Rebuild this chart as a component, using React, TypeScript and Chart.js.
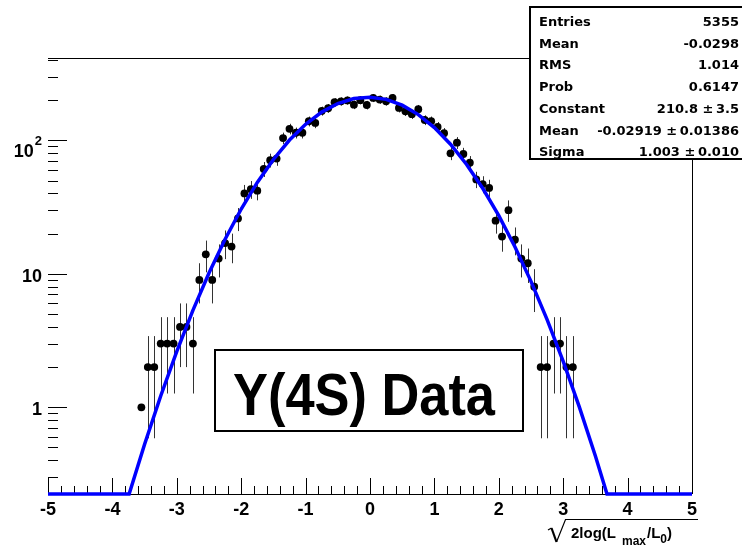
import React, { useEffect, useRef } from "react";
import { Chart, registerables } from "chart.js";

Chart.register(...registerables);

// ---- data ----
const binCenters = [
  -3.55, -3.45, -3.35, -3.25, -3.15, -3.05, -2.95, -2.85, -2.75, -2.65,
  -2.55, -2.45, -2.35, -2.25, -2.15, -2.05, -1.95, -1.85, -1.75, -1.65,
  -1.55, -1.45, -1.35, -1.25, -1.15, -1.05, -0.95, -0.85, -0.75, -0.65,
  -0.55, -0.45, -0.35, -0.25, -0.15, -0.05, 0.05, 0.15, 0.25, 0.35,
  0.45, 0.55, 0.65, 0.75, 0.85, 0.95, 1.05, 1.15, 1.25, 1.35,
  1.45, 1.55, 1.65, 1.75, 1.85, 1.95, 2.05, 2.15, 2.25, 2.35,
  2.45, 2.55, 2.65, 2.75, 2.85, 2.95, 3.05, 3.15,
];
const binCounts = [
  1, 2, 2, 3, 3, 3, 4, 4, 3, 9,
  14, 9, 13, 17, 16, 26, 40, 43, 42, 61,
  71, 73, 104, 122, 114, 114, 139, 135, 166, 174,
  193, 196, 199, 185, 200, 184, 208, 202, 196, 208,
  175, 165, 157, 171, 142, 139, 126, 113, 80, 96,
  79, 68, 51, 47, 44, 25, 19, 30, 18, 13,
  12, 8, 2, 2, 3, 3, 2, 2,
];
const binWidth = 0.1;

const fitX = [
  -5, -3.74, -3.5, -3.25, -3, -2.75, -2.5, -2.25, -2, -1.75, -1.5, -1.25, -1,
  -0.75, -0.5, -0.25, 0, 0.25, 0.5, 0.75, 1, 1.25, 1.5, 1.75, 2, 2.25, 2.5,
  2.75, 3, 3.25, 3.5, 3.68, 5,
];
const fitY = [
  0.224, 0.224, 0.529, 1.215, 2.623, 5.317, 10.14, 18.16, 30.58, 48.37, 71.91,
  100.5, 131.9, 162.8, 188.8, 205.7, 210.7, 202.8, 183.4, 155.9, 124.5, 93.49,
  65.95, 43.73, 27.25, 15.95, 8.776, 4.538, 2.206, 1.007, 0.432, 0.224, 0.224,
];

const xTickValues = [-5, -4, -3, -2, -1, 0, 1, 2, 3, 4, 5];
const xTickLabels = ["-5", "-4", "-3", "-2", "-1", "0", "1", "2", "3", "4", "5"];
const yTickValues = [1, 10, 100];
const yTickLabels = ["1", "10", "10"];
const yTickSup = ["", "", "2"];

const statsLabels = ["Entries", "Mean", "RMS", "Prob", "Constant", "Mean", "Sigma"];
const statsValues = [
  "5355",
  "-0.0298",
  "1.014",
  "0.6147",
  "210.8 \u00b1\u20093.5",
  "-0.02919 \u00b1\u20090.01386",
  "1.003 \u00b1\u20090.010",
];

const boxText = "Y(4S) Data";

const X_MIN = -5;
const X_MAX = 5;
const Y_MIN = 0.224;
const Y_MAX = 414;

const TICK_FONT = 'bold 18px "Liberation Sans", Arial, sans-serif';

const rootPlugin = {
  id: "rootStyle",
  beforeDatasetsDraw(chart: any) {
    const { ctx, chartArea: a, scales } = chart;
    const xs = scales.x;
    const ys = scales.y;
    ctx.save();
    // frame
    ctx.strokeStyle = "#000";
    ctx.lineWidth = 1;
    ctx.beginPath();
    ctx.moveTo(a.left, Math.round(a.bottom) + 0.5);
    ctx.lineTo(a.right, Math.round(a.bottom) + 0.5);
    ctx.moveTo(Math.round(a.right) + 0.5, a.bottom);
    ctx.lineTo(Math.round(a.right) + 0.5, a.top);
    ctx.moveTo(a.left, Math.round(a.top) + 0.5);
    ctx.lineTo(a.right, Math.round(a.top) + 0.5);
    ctx.stroke();

    // x ticks (major at integers, minor every 0.2)
    ctx.beginPath();
    for (let i = -25; i <= 25; i++) {
      const v = i / 5;
      const px = Math.round(xs.getPixelForValue(v)) + 0.5;
      const len = i % 5 === 0 ? 16 : 8;
      ctx.moveTo(px, a.bottom);
      ctx.lineTo(px, a.bottom - len);
    }
    ctx.stroke();

    // y ticks (log)
    ctx.beginPath();
    for (let d = -1; d <= 2; d++) {
      for (let m = 1; m <= 9; m++) {
        const v = m * Math.pow(10, d);
        if (v < Y_MIN || v > Y_MAX) continue;
        const py = Math.round(ys.getPixelForValue(v)) + 0.5;
        const len = m === 1 ? 19 : 10;
        ctx.moveTo(a.left, py);
        ctx.lineTo(a.left + len, py);
      }
    }
    ctx.stroke();

    // error bars
    ctx.beginPath();
    ctx.rect(a.left, a.top, a.width, a.height);
    ctx.clip();
    binCenters.forEach((c, i) => {
      const n = binCounts[i];
      const px = Math.round(xs.getPixelForValue(c)) + 0.5;
      const py = ys.getPixelForValue(n);
      if (n > 1) {
        const e = Math.sqrt(n);
        ctx.strokeStyle = "#333";
        ctx.lineWidth = 1;
        ctx.beginPath();
        ctx.moveTo(px, ys.getPixelForValue(n + e));
        ctx.lineTo(px, ys.getPixelForValue(n - e));
        ctx.stroke();
      }
      ctx.lineWidth = 3;
      ctx.strokeStyle = "#000";
      ctx.beginPath();
      ctx.moveTo(xs.getPixelForValue(c - binWidth / 2), py);
      ctx.lineTo(xs.getPixelForValue(c + binWidth / 2), py);
      ctx.stroke();
    });
    ctx.restore();
  },
  afterDraw(chart: any) {
    const { ctx, chartArea: a, scales } = chart;
    const xs = scales.x;
    const ys = scales.y;
    ctx.save();
    ctx.fillStyle = "#000";

    // x tick labels
    ctx.font = TICK_FONT;
    ctx.textAlign = "center";
    ctx.textBaseline = "alphabetic";
    xTickValues.forEach((v, i) => {
      ctx.fillText(xTickLabels[i], xs.getPixelForValue(v), a.bottom + 21);
    });

    // y tick labels
    ctx.textAlign = "right";
    yTickValues.forEach((v, i) => {
      const py = ys.getPixelForValue(v);
      if (yTickSup[i]) {
        ctx.font = 'bold 13px "Liberation Sans", Arial, sans-serif';
        ctx.fillText(yTickSup[i], 42, py + 5);
        const w = ctx.measureText(yTickSup[i]).width;
        ctx.font = TICK_FONT;
        ctx.fillText(yTickLabels[i], 42 - w - 1, py + 17);
      } else {
        ctx.font = TICK_FONT;
        ctx.fillText(yTickLabels[i], 42, py + 8);
      }
    });

    // axis title: sqrt(2log(L max / L0))
    ctx.strokeStyle = "#000";
    ctx.lineWidth = 1.2;
    ctx.beginPath();
    ctx.moveTo(548, 530);
    ctx.lineTo(551.5, 528);
    ctx.stroke();
    ctx.lineWidth = 2.2;
    ctx.beginPath();
    ctx.moveTo(551.5, 528);
    ctx.lineTo(556.5, 542);
    ctx.stroke();
    ctx.lineWidth = 1.2;
    ctx.beginPath();
    ctx.moveTo(556.5, 542);
    ctx.lineTo(565.5, 519.5);
    ctx.lineTo(698, 519.5);
    ctx.stroke();

    ctx.textAlign = "left";
    let tx = 571;
    const big = 'bold 15px "Liberation Sans", Arial, sans-serif';
    const small = 'bold 12px "Liberation Sans", Arial, sans-serif';
    ctx.font = big;
    ctx.fillText("2log(L", tx, 538);
    tx += ctx.measureText("2log(L").width + 6;
    ctx.font = small;
    ctx.fillText("max", tx, 545);
    tx += ctx.measureText("max").width + 1;
    ctx.font = big;
    ctx.fillText("/L", tx, 538);
    tx += ctx.measureText("/L").width;
    ctx.font = small;
    ctx.fillText("0", tx, 543);
    tx += ctx.measureText("0").width;
    ctx.font = big;
    ctx.fillText(")", tx, 538);

    // label box
    ctx.fillStyle = "#fff";
    ctx.fillRect(215, 350, 308, 81);
    ctx.strokeStyle = "#000";
    ctx.lineWidth = 2;
    ctx.strokeRect(215, 350, 308, 81);
    ctx.fillStyle = "#000";
    ctx.font = 'bold 59px "Liberation Sans", Arial, sans-serif';
    const tw = ctx.measureText(boxText).width;
    ctx.save();
    ctx.translate(233, 415);
    ctx.scale(262 / tw, 1);
    ctx.fillText(boxText, 0, 0);
    ctx.restore();

    // stats box
    ctx.fillStyle = "#fff";
    ctx.fillRect(530, 7, 220, 152);
    ctx.strokeStyle = "#000";
    ctx.lineWidth = 2;
    ctx.strokeRect(530, 7, 220, 152);
    ctx.fillStyle = "#000";
    ctx.font = 'bold 13px "DejaVu Sans", sans-serif';
    statsLabels.forEach((lab, i) => {
      const by = 26 + i * 21.7;
      ctx.textAlign = "left";
      ctx.fillText(lab, 539, by);
      ctx.textAlign = "right";
      ctx.fillText(statsValues[i], 739, by);
    });
    ctx.restore();
  },
};

export default function App() {
  const ref = useRef<HTMLCanvasElement>(null);
  useEffect(() => {
    const canvas = ref.current;
    if (!canvas) return;
    const chart = new Chart(canvas, {
      type: "scatter",
      data: {
        datasets: [
          {
            label: "fit",
            data: fitX.map((x, i) => ({ x, y: fitY[i] })),
            showLine: true,
            borderColor: "#0000ff",
            borderWidth: 3.5,
            pointRadius: 0,
            tension: 0,
            clip: 4,
            order: 0,
          } as any,
          {
            label: "data",
            data: binCenters.map((x, i) => ({ x, y: binCounts[i] })),
            showLine: false,
            pointRadius: 3.9,
            pointBackgroundColor: "#000",
            pointBorderColor: "#000",
            pointBorderWidth: 0,
            order: 1,
          } as any,
        ],
      },
      options: {
        animation: false,
        responsive: false,
        events: [],
        layout: { padding: { left: 48, right: 50, top: 58, bottom: 54 } },
        plugins: { legend: { display: false }, tooltip: { enabled: false } },
        scales: {
          x: { type: "linear", min: X_MIN, max: X_MAX, display: false },
          y: { type: "logarithmic", min: Y_MIN, max: Y_MAX, display: false },
        },
      },
      plugins: [rootPlugin],
    });
    return () => chart.destroy();
  }, []);
  return (
    <div style={{ position: "absolute", left: 0, top: 0, width: 742, height: 548, background: "#fff" }}>
      <canvas ref={ref} width={742} height={548} style={{ display: "block" }} />
    </div>
  );
}
